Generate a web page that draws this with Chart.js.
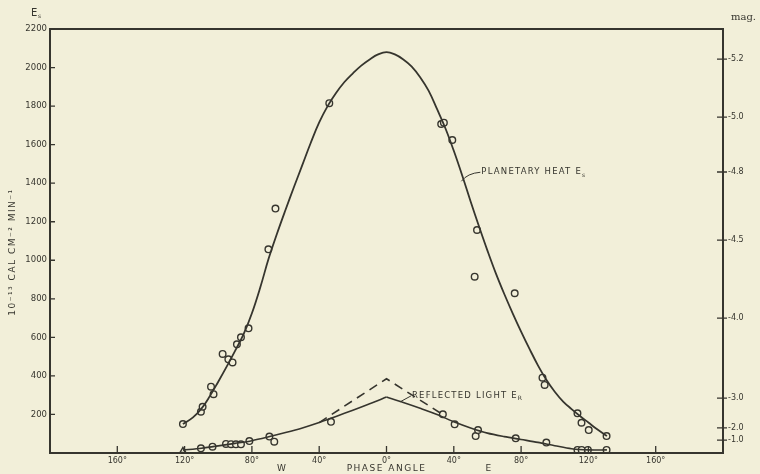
<!DOCTYPE html>
<html lang="en">
<head>
<meta charset="UTF-8">
<title>Planetary heat and reflected light against phase angle</title>
<style>
  html, body { margin: 0; padding: 0; background: #f2efd9; }
  .wrap { width: 760px; height: 474px; }
</style>
</head>
<body>
<div class="wrap"><canvas id="phaseChart" width="760" height="474"></canvas></div>
<script src="https://cdn.jsdelivr.net/npm/chart.js@4.4.0/dist/chart.umd.min.js"></script>
<script>
// phase angle in degrees, W negative / E positive
const heatCurveDeg = [-121, -115, -110, -105, -100, -95, -90, -85, -80, -75, -70, -65, -60, -55, -50, -45, -40, -35, -30, -25, -20, -15, -10, -5, 0,
                      5, 10, 15, 20, 25, 30, 35, 40, 45, 50, 55, 60, 65, 70, 75, 80, 85, 90, 95, 100, 105, 110, 115, 120, 125, 131];
const heatCurveE   = [150, 185, 230, 295, 370, 448, 530, 615, 725, 860, 1010, 1140, 1262, 1380, 1495, 1610, 1715, 1800, 1868, 1925, 1970, 2010, 2042, 2068, 2080,
                      2068, 2042, 2005, 1950, 1880, 1785, 1685, 1568, 1440, 1305, 1175, 1050, 932, 825, 725, 630, 540, 455, 380, 318, 267, 228, 192, 158, 124, 88];

const heatObsDeg = [-121, -110.3, -109.3, -104.3, -102.8, -97.4, -94, -91.5, -88.9, -86.5, -82, -70.2, -66, -34, 32.5, 34.1, 39.1, 52.4, 53.8, 76.2, 92.7, 94, 113.5, 115.9, 120.2, 130.8];
const heatObsE   = [150, 214, 240, 344, 305, 514, 486, 470, 564, 600, 647, 1057, 1268, 1815, 1707, 1714, 1624, 915, 1157, 829, 391, 353, 206, 157, 119, 88];

const lightCurveDeg = [-121, -110, -100, -90, -80, -70, -60, -50, -40, -30, -20, -10, 0, 10, 20, 30, 40, 50, 60, 70, 80, 90, 100, 110, 120, 131];
const lightCurveE   = [15, 25, 37, 50, 64, 84, 106, 130, 158, 190, 222, 255, 290, 262, 232, 200, 162, 130, 103, 85, 70, 55, 38, 22, 16, 16];

const lightDashDeg = [-40, 0, 33];
const lightDashE   = [158, 385, 202];

const lightObsDeg = [-121, -110.3, -103.4, -95.4, -92.4, -89.5, -86.5, -81.5, -69.6, -66.7, -33, 33.5, 40.5, 53, 54.4, 76.8, 95, 113.5, 116, 119.7, 130.8];
const lightObsE   = [12, 24, 33, 47, 46, 45, 45, 62, 85, 59, 162, 201, 149, 88, 119, 76, 54, 16, 16, 16, 16];

const xTicks = [-160, -120, -80, -40, 0, 40, 80, 120, 160];
const yTicks = [200, 400, 600, 800, 1000, 1200, 1400, 1600, 1800, 2000, 2200];
const magTickE = [2044, 1743, 1458, 1105, 700, 285, 130, 67];
const magTickLabels = ['-5.2', '-5.0', '-4.8', '-4.5', '-4.0', '-3.0', '-2.0', '-1.0'];

const ink = '#36352e';
const paper = '#f2efd9';
const font = 'DejaVu Sans';

function pts(xs, ys) { return xs.map((v, i) => ({ x: v, y: ys[i] })); }

const peak = lightCurveDeg.indexOf(0);

// paper background, frame, inward ticks and hand-lettered labels
const decor = {
  id: 'decor',
  beforeDraw(chart) {
    const c = chart.ctx;
    c.save();
    c.fillStyle = paper;
    c.fillRect(0, 0, chart.width, chart.height);
    c.restore();
  },
  afterDraw(chart) {
    const c = chart.ctx, a = chart.chartArea;
    const sx = chart.scales.x, sy = chart.scales.y, sm = chart.scales.mag;
    c.save();
    c.strokeStyle = ink;
    c.fillStyle = ink;
    c.lineWidth = 2;
    c.strokeRect(a.left, a.top, a.right - a.left, a.bottom - a.top);

    c.lineWidth = 1.3;
    c.beginPath();
    yTicks.forEach(v => { const py = sy.getPixelForValue(v); c.moveTo(a.left, py); c.lineTo(a.left + 5, py); });
    magTickE.forEach(v => { const py = sm.getPixelForValue(v); c.moveTo(a.right - 6, py); c.lineTo(a.right + 4, py); });
    xTicks.forEach(v => { const px = sx.getPixelForValue(v); c.moveTo(px, a.bottom); c.lineTo(px, a.bottom - 7); });
    c.stroke();

    c.textBaseline = 'middle';
    c.font = '9px "' + font + '"';
    c.letterSpacing = '1.5px';
    c.textAlign = 'center';
    c.fillText('PHASE ANGLE', sx.getPixelForValue(0), 469);
    c.fillText('W', sx.getPixelForValue(-62), 469);
    c.fillText('E', sx.getPixelForValue(61), 469);

    // vertical unit label
    c.save();
    c.translate(13, 252);
    c.rotate(-Math.PI / 2);
    c.fillText('10⁻¹³ CAL CM⁻² MIN⁻¹', 0, 0);
    c.restore();

    // E_s above left axis, mag. above right axis
    c.letterSpacing = '0px';
    c.textAlign = 'left';
    c.font = '10px "' + font + '"';
    c.fillText('E', 31, 13);
    c.font = '6px "' + font + '"';
    c.fillText('s', 38, 16);
    c.font = '10px "DejaVu Serif"';
    c.fillText('mag.', 731, 17);

    // planetary heat label with leader
    const hx = sx.getPixelForValue(44.5), hy = sy.getPixelForValue(1410);
    c.lineWidth = 1;
    c.beginPath();
    c.moveTo(hx, hy);
    c.quadraticCurveTo(hx + 6, hy - 8, hx + 19, hy - 9);
    c.stroke();
    c.font = '8.5px "' + font + '"';
    c.letterSpacing = '1.2px';
    c.fillText('PLANETARY HEAT E', hx + 20, hy - 9);
    let w = c.measureText('PLANETARY HEAT E').width;
    c.font = '6px "' + font + '"';
    c.letterSpacing = '0px';
    c.fillText('s', hx + 20 + w, hy - 6);

    // reflected light label with leader
    const rx = sx.getPixelForValue(8), ry = sy.getPixelForValue(265);
    c.beginPath();
    c.moveTo(rx, ry);
    c.lineTo(rx + 11, ry - 6);
    c.stroke();
    c.font = '8.5px "' + font + '"';
    c.letterSpacing = '1.2px';
    c.fillText('REFLECTED LIGHT E', rx + 12, ry - 6);
    w = c.measureText('REFLECTED LIGHT E').width;
    c.font = '6px "' + font + '"';
    c.letterSpacing = '0px';
    c.fillText('R', rx + 12 + w, ry - 3);
    c.restore();
  }
};

new Chart(document.getElementById('phaseChart'), {
  type: 'scatter',
  data: {
    datasets: [
      {
        label: 'Planetary heat',
        data: pts(heatCurveDeg, heatCurveE),
        showLine: true,
        tension: 0.4,
        borderColor: ink,
        borderWidth: 1.8,
        pointRadius: 0
      },
      {
        label: 'Reflected light W',
        data: pts(lightCurveDeg.slice(0, peak + 1), lightCurveE.slice(0, peak + 1)),
        showLine: true,
        tension: 0.3,
        borderColor: ink,
        borderWidth: 1.6,
        pointRadius: 0
      },
      {
        label: 'Reflected light E',
        data: pts(lightCurveDeg.slice(peak), lightCurveE.slice(peak)),
        showLine: true,
        tension: 0.3,
        borderColor: ink,
        borderWidth: 1.6,
        pointRadius: 0
      },
      {
        label: 'Reflected light (dashed)',
        data: pts(lightDashDeg, lightDashE),
        showLine: true,
        borderColor: ink,
        borderWidth: 1.6,
        borderDash: [9, 6],
        pointRadius: 0
      },
      {
        label: 'Heat observations',
        data: pts(heatObsDeg, heatObsE),
        pointStyle: 'circle',
        pointRadius: 3.3,
        borderWidth: 1.4,
        borderColor: ink,
        backgroundColor: paper
      },
      {
        label: 'Light observations',
        data: pts(lightObsDeg, lightObsE),
        pointStyle: ctx => ctx.dataIndex === 0 ? 'triangle' : 'circle',
        pointRadius: 3.3,
        borderWidth: 1.4,
        borderColor: ink,
        backgroundColor: paper
      }
    ]
  },
  options: {
    responsive: false,
    devicePixelRatio: 1,
    animation: false,
    layout: { padding: { top: 29, left: 0, right: 0, bottom: 0 } },
    plugins: {
      legend: { display: false },
      tooltip: { enabled: false }
    },
    scales: {
      x: {
        type: 'linear',
        position: 'bottom',
        min: -200,
        max: 200,
        afterBuildTicks: s => { s.ticks = xTicks.map(v => ({ value: v })); },
        afterFit: s => { s.height = 21; },
        grid: { display: false, drawTicks: false },
        border: { display: false },
        ticks: {
          color: ink,
          padding: 3,
          maxRotation: 0,
          font: { family: font, size: 8 },
          callback: v => Math.abs(v) + '°'
        }
      },
      y: {
        type: 'linear',
        position: 'left',
        min: 0,
        max: 2200,
        afterBuildTicks: s => { s.ticks = yTicks.map(v => ({ value: v })); },
        afterFit: s => { s.width = 50; },
        grid: { display: false, drawTicks: false },
        border: { display: false },
        ticks: {
          color: ink,
          padding: 3,
          font: { family: font, size: 8.5 },
          callback: v => String(v)
        }
      },
      mag: {
        type: 'linear',
        position: 'right',
        min: 0,
        max: 2200,
        afterBuildTicks: s => { s.ticks = magTickE.map(v => ({ value: v })); },
        afterFit: s => { s.width = 37; },
        grid: { display: false, drawTicks: false },
        border: { display: false },
        ticks: {
          color: ink,
          padding: 5,
          font: { family: font, size: 8 },
          callback: v => magTickLabels[magTickE.indexOf(v)]
        }
      }
    }
  },
  plugins: [decor]
});
</script>
</body>
</html>
